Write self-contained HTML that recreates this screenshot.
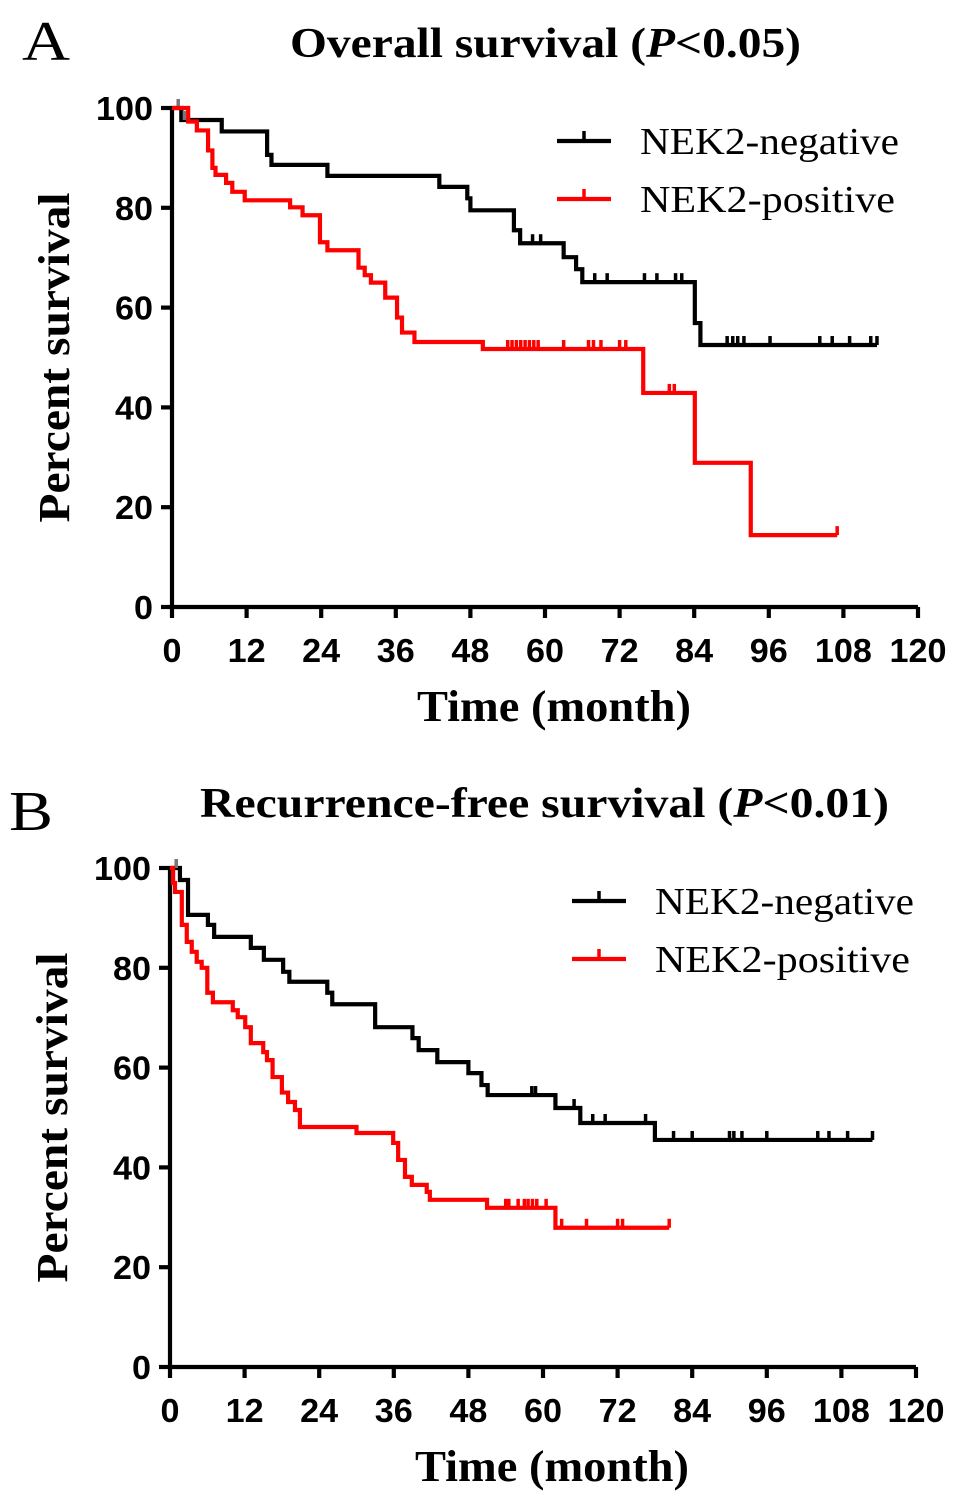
<!DOCTYPE html>
<html><head><meta charset="utf-8">
<style>
body{margin:0;background:#fff;width:960px;height:1506px;overflow:hidden}
svg{display:block}
.serif{font-family:"Liberation Serif",serif}
.sans{font-family:"Liberation Sans",sans-serif}
</style></head>
<body>
<svg id="fig" width="960" height="1506" viewBox="0 0 960 1506" xmlns="http://www.w3.org/2000/svg"></svg>
<script>
// Panel A: Overall survival
const xTicks = [0,12,24,36,48,60,72,84,96,108,120];
const yTicks = [0,20,40,60,80,100];
const osNegTimes = [0,1.5,8,15.3,16,25,43,47.5,48,55,56,63,65,66,84.1,85,113.4];
const osNegSurv  = [100,97.6,95.3,90.6,88.6,86.4,84.2,81.9,79.5,75.5,72.9,70.1,67.7,65.1,56.9,52.5,52.5];
const osNegCens  = [1,2,58,59.3,68,70,76,78,81,82,89.3,90.2,91,92,96.2,104.2,106.2,109,112.4,113.4];
const osPosTimes = [0,2.6,4,5.8,6.5,7,8.7,9.7,11.7,19,21,23.8,25,30,31,32,34.3,36.2,37,39,50,75.8,84.1,93.1,107];
const osPosSurv  = [100,97.3,95.5,91.5,88,86.6,85,83.2,81.5,80.1,78.5,73.1,71.5,68,66.5,65,62,58,55,53.1,51.7,42.9,28.9,14.4,14.4];
const osPosCens  = [54,54.7,55.4,56.1,56.8,57.5,58.2,58.9,63,67,67.8,69,72,73,80,80.8,107];
// Panel B: Recurrence-free survival
const rfsNegTimes = [0,1.6,2.9,6.1,7.1,13,15.1,18.2,19.2,25.3,26.1,33,39,40,43,48,50.1,51.1,62,66,78,113];
const rfsNegSurv  = [100,97.6,90.6,88.6,86.2,84,81.6,79.2,77.2,75,72.7,68.1,65.9,63.5,61.1,58.9,56.5,54.5,51.9,48.9,45.5,45.5];
const rfsNegCens  = [1,58.2,58.8,65,68,70,76.5,81,84,90,90.7,92,96,104.2,106,109,113];
const rfsPosTimes = [0,0.5,0.8,1.9,2.7,3.5,4.3,5.1,6,6.9,10.1,10.9,12.1,13,15,15.6,16.5,18,19,20.1,20.9,30,35.9,36.7,37.8,38.9,41.3,41.8,51,62,80.3];
const rfsPosSurv  = [100,97,95.2,88.6,85.2,83.2,81.2,80,75,73.1,71.5,70.1,68.1,64.9,63.1,61.5,58.1,55,53.1,51.5,48.1,46.9,44.9,41.5,38.1,36.5,35.1,33.5,31.9,27.9,27.9];
const rfsPosCens  = [54,54.5,56,57,57.6,58.3,59,60.5,63,67,72,72.8,80.3];

const NS='http://www.w3.org/2000/svg';
const svg=document.getElementById('fig');
function mk(tag,attrs,parent){const e=document.createElementNS(NS,tag);for(const k in attrs)e.setAttribute(k,attrs[k]);(parent||svg).appendChild(e);return e;}
const LW=4.2;

function panel(P){
  const g=mk('g',{});
  
  
  const xs=t=>P.x0+t*(P.x1-P.x0)/120;
  const ys=v=>P.y0-v*(P.y0-P.y1)/100;
  const L=mk('text',{x:P.lx,y:P.ly,'font-size':56,class:'serif',textLength:P.lw,lengthAdjust:'spacingAndGlyphs'},g);L.textContent=P.letter;
  
  
  const T=mk('text',{x:P.tx,y:P.ty,'font-size':42,'font-weight':'bold',class:'serif',textLength:P.tw,lengthAdjust:'spacingAndGlyphs'},g);
  T.innerHTML=P.title+' (<tspan font-style="italic">P</tspan>'+P.p+')';
  
  
  const ax=mk('path',{d:`M${P.x0},${P.y1-2}V${P.y0}H${P.x1}`,stroke:'#000','stroke-width':LW,fill:'none'},g);
  
  
  xTicks.forEach(t=>{
    const l=mk('line',{x1:xs(t),x2:xs(t),y1:P.y0,y2:P.y0+11,stroke:'#000','stroke-width':LW},g);
    
    
    const n=String(t).length;
    const tx=mk('text',{x:xs(t),y:P.y0+55,'font-size':33,'font-weight':'bold','text-anchor':'middle',class:'sans',textLength:n*19,lengthAdjust:'spacingAndGlyphs'},g);
    tx.textContent=t;
    
    
  });
  yTicks.forEach(v=>{
    const l=mk('line',{x1:P.x0-11,x2:P.x0,y1:ys(v),y2:ys(v),stroke:'#000','stroke-width':LW},g);
    
    
    const n=String(v).length;
    const tx=mk('text',{x:P.x0-19-n*19,y:ys(v)+12,'font-size':33,'font-weight':'bold',class:'sans',textLength:n*19,lengthAdjust:'spacingAndGlyphs'},g);
    tx.textContent=v;
    
    
  });
  const yt=mk('text',{x:-165,y:0,'font-size':44,'font-weight':'bold',class:'serif',textLength:330,lengthAdjust:'spacingAndGlyphs',transform:`translate(${P.x0-103},${(P.y0+P.y1)/2}) rotate(-90)`},g);
  yt.textContent='Percent survival';
  
  
  const xt=mk('text',{x:P.x0+245,y:P.y0+114,'font-size':44,'font-weight':'bold',class:'serif',textLength:274,lengthAdjust:'spacingAndGlyphs'},g);
  xt.textContent='Time (month)';
  
  
  P.series.forEach((s,si)=>{
    let d=`M${xs(s.t[0])},${ys(s.s[0])}`;
    for(let i=1;i<s.t.length;i++){d+=`H${xs(s.t[i])}V${ys(s.s[i])}`;}
    const p=mk('path',{d,stroke:s.c,'stroke-width':LW,fill:'none'},g);
    
    
    const surv=t=>{let v=s.s[0];for(let i=0;i<s.t.length;i++){if(s.t[i]<=t)v=s.s[i];}return v;};
    s.cens.forEach(t=>{
      const y=ys(surv(t));
      const c=mk('line',{x1:xs(t),x2:xs(t),y1:y-9,y2:y,stroke:t<3?'#777':s.c,'stroke-width':3.5},g);
      
      
    });
    const ly=P.legY+si*58;
    const lg=mk('g',{},g);
    
    
    mk('line',{x1:P.legX,x2:P.legX+54,y1:ly,y2:ly,stroke:s.c,'stroke-width':LW},lg);
    mk('line',{x1:P.legX+27,x2:P.legX+27,y1:ly-10,y2:ly,stroke:s.c,'stroke-width':3.5},lg);
    const lt=mk('text',{x:P.legX+83,y:ly+13,'font-size':38,class:'serif',textLength:si?255:259,lengthAdjust:'spacingAndGlyphs'},lg);
    lt.textContent=s.label;
  });
}

panel({id:'panel-a-overall-survival',letter:'A',lx:22,ly:60,lw:48,tx:290,ty:57,tw:511,title:'Overall survival',p:'&lt;0.05',
  x0:172,x1:918,y0:607,y1:108,legX:557,legY:141,
  series:[{name:'nek2-negative',label:'NEK2-negative',c:'#000',t:osNegTimes,s:osNegSurv,cens:osNegCens},
          {name:'nek2-positive',label:'NEK2-positive',c:'#f00',t:osPosTimes,s:osPosSurv,cens:osPosCens}]});
panel({id:'panel-b-recurrence-free-survival',letter:'B',lx:9,ly:830,lw:44,tx:200,ty:817,tw:689,title:'Recurrence-free survival',p:'&lt;0.01',
  x0:170,x1:916,y0:1367,y1:868,legX:572,legY:901,
  series:[{name:'nek2-negative',label:'NEK2-negative',c:'#000',t:rfsNegTimes,s:rfsNegSurv,cens:rfsNegCens},
          {name:'nek2-positive',label:'NEK2-positive',c:'#f00',t:rfsPosTimes,s:rfsPosSurv,cens:rfsPosCens}]});
</script>
</body></html>
